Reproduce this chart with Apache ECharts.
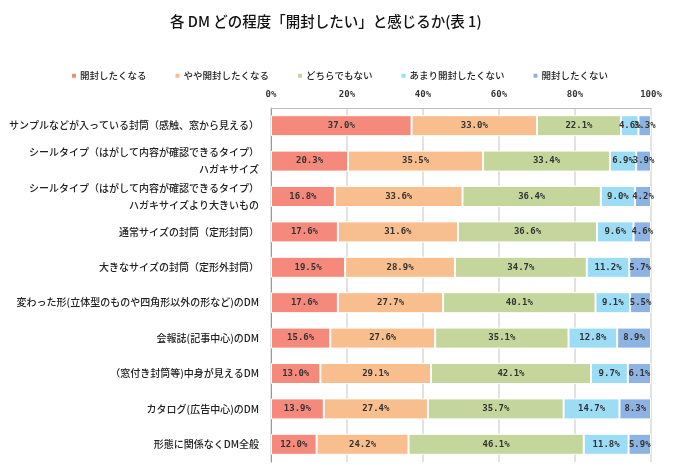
<!DOCTYPE html>
<html><head><meta charset="utf-8">
<script src="https://cdn.jsdelivr.net/npm/echarts@6/dist/echarts.min.js"></script>
<style>html,body{margin:0;padding:0;background:#fff}#c{width:678px;height:470px}</style>
</head><body><div id="c"></div>
<script>
const categories = [
  'サンプルなどが入っている封筒（感触、窓から見える）',
  'シールタイプ（はがして内容が確認できるタイプ）\nハガキサイズ',
  'シールタイプ（はがして内容が確認できるタイプ）\nハガキサイズより大きいもの',
  '通常サイズの封筒（定形封筒）',
  '大きなサイズの封筒（定形外封筒）',
  '変わった形(立体型のものや四角形以外の形など)のDM',
  '会報誌(記事中心)のDM',
  '（窓付き封筒等)中身が見えるDM',
  'カタログ(広告中心)のDM',
  '形態に関係なくDM全般'
];
const seriesNames = ['開封したくなる','やや開封したくなる','どちらでもない','あまり開封したくない','開封したくない'];
const s1 = [37.0, 20.3, 16.8, 17.6, 19.5, 17.6, 15.6, 13.0, 13.9, 12.0];
const s2 = [33.0, 35.5, 33.6, 31.6, 28.9, 27.7, 27.6, 29.1, 27.4, 24.2];
const s3 = [22.1, 33.4, 36.4, 36.6, 34.7, 40.1, 35.1, 42.1, 35.7, 46.1];
const s4 = [4.6, 6.9, 9.0, 9.6, 11.2, 9.1, 12.8, 9.7, 14.7, 11.8];
const s5 = [3.3, 3.9, 4.2, 4.6, 5.7, 5.5, 8.9, 6.1, 8.3, 5.9];
const colors = ['#F58A7C','#F9BE8E','#C4D69B','#9CDCF5','#8DB3E2'];
const values = [s1, s2, s3, s4, s5];

const chart = echarts.init(document.getElementById('c'));
chart.setOption({
  animation: false,
  title: {
    text: '各 DM どの程度「開封したい」と感じるか(表 1)',
    left: 165, top: 9,
    textStyle: {fontFamily: 'Noto Sans CJK JP', fontSize: 14.5, fontWeight: 500, color: '#111'}
  },
  legend: {
    data: seriesNames, top: 66, left: 'center',
    itemWidth: 6, itemHeight: 6, itemGap: 27, icon: 'rect',
    textStyle: {fontFamily: 'Noto Sans CJK JP', fontSize: 9.5, fontWeight: 500, color: '#222', padding: [0,0,0,-2]}
  },
  grid: {left: 271, right: 27, top: 108, bottom: 8},
  xAxis: {
    type: 'value', position: 'top', min: 0, max: 100, interval: 20,
    axisLine: {show: true, lineStyle: {color: '#bfbfbf'}},
    axisTick: {show: false},
    splitLine: {show: true, lineStyle: {color: '#d9d9d9', width: 1.5}},
    axisLabel: {formatter: '{value}%', margin: 9, fontFamily: 'DejaVu Sans Mono', fontWeight: 'bold', fontSize: 9, color: '#333'}
  },
  yAxis: {
    type: 'category', data: categories, inverse: true,
    axisLine: {show: true, lineStyle: {color: '#999'}},
    axisTick: {show: false},
    axisLabel: {margin: 12, fontFamily: 'Noto Sans CJK JP', fontSize: 10, fontWeight: 500, color: '#222', lineHeight: 17}
  },
  series: seriesNames.map((n, i) => ({
    name: n, type: 'bar', stack: 'all', data: values[i], barWidth: 21,
    itemStyle: {color: colors[i], borderColor: '#fff', borderWidth: 1},
    label: {show: true, position: 'inside', formatter: p => p.value.toFixed(1) + '%',
      fontFamily: 'DejaVu Sans Mono', fontWeight: 'bold', fontSize: 9, color: '#333'}
  }))
});
</script></body></html>
